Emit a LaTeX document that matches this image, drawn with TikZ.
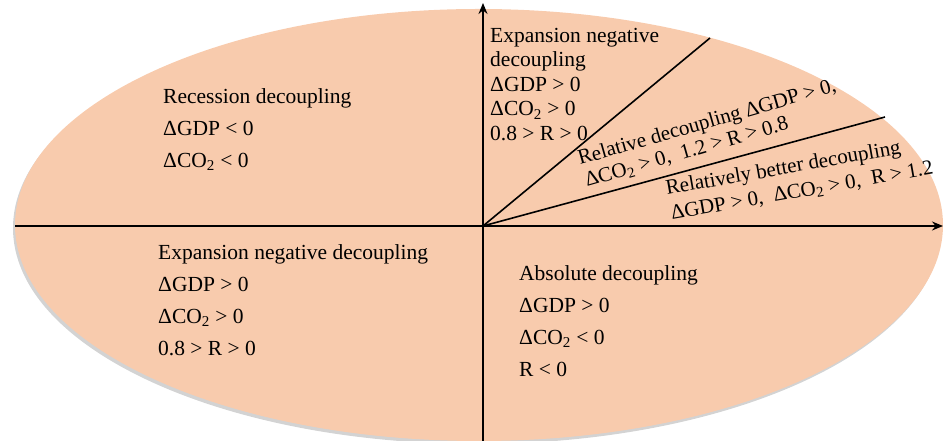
\documentclass[tikz,border=0pt]{standalone}
\usepackage{fontspec}
\setmainfont{Liberation Serif}
\usepackage{tikz}
\usetikzlibrary{shapes.geometric, arrows.meta, shadows}
\definecolor{peach}{HTML}{F8CBAD}
\newcommand{\dco}{ΔCO\textsubscript{2}}
\tikzstyle{zone} = [ellipse, minimum width=928pt, minimum height=432pt, inner sep=0pt, fill=peach, draw=none, drop shadow={shadow xshift=-2pt, shadow yshift=-3pt, opacity=.35}]
\tikzstyle{quad} = [align=left, anchor=north west, inner sep=0pt, font=\fontsize{21.5}{32}\selectfont]
\tikzstyle{narrow} = [quad, font=\fontsize{21.5}{24.5}\selectfont]
\tikzstyle{slant} = [anchor=base west, inner sep=0pt, font=\fontsize{21}{24}\selectfont]
\tikzstyle{arrow} = [line width=1.6pt, -{Stealth[length=11pt, width=9pt]}]
\tikzstyle{ray} = [line width=1.6pt]

\begin{document}
\begin{tikzpicture}[x=1pt, y=1pt]
\useasboundingbox (0,0) rectangle (943,441);
\node (oval) [zone] at (479,216) {};
% axes and rays
\coordinate (O) at (483,215);
\coordinate (xstart) at (15,215);
\coordinate (xend) at (943,215);
\coordinate (ystart) at (483,0);
\coordinate (yend) at (483,438);
\coordinate (steep) at (710,403);
\coordinate (flat) at (885,324);
\draw [arrow] (xstart) -- (xend);
\draw [arrow] (ystart) -- (yend);
\draw [ray] (O) -- (steep);
\draw [ray] (O) -- (flat);
% quadrant texts
\node (recession) [quad] at (163,353) {Recession decoupling\\ΔGDP < 0\\\dco{} < 0};
\node (expleft) [quad] at (158,197) {Expansion negative decoupling\\ΔGDP > 0\\\dco{} > 0\\0.8 > R > 0};
\node (absolute) [quad] at (519,176) {Absolute decoupling\\ΔGDP > 0\\\dco{} < 0\\R < 0};
\node (exptop) [narrow] at (490,413) {Expansion negative\\decoupling\\ΔGDP > 0\\\dco{} > 0\\0.8 > R > 0};
% slanted texts
\node (relative) [slant, rotate=16] at (580,276) {Relative decoupling ΔGDP > 0,};
\node (relative2) [slant, rotate=16] at (587,254) {\dco{} > 0,\ \ 1.2 > R > 0.8};
\node (better) [slant, rotate=10] at (667,246) {Relatively better decoupling};
\node (better2) [slant, rotate=10] at (672,221) {ΔGDP > 0,\ \ \dco{} > 0,\ \ R > 1.2};
\end{tikzpicture}
\end{document}
